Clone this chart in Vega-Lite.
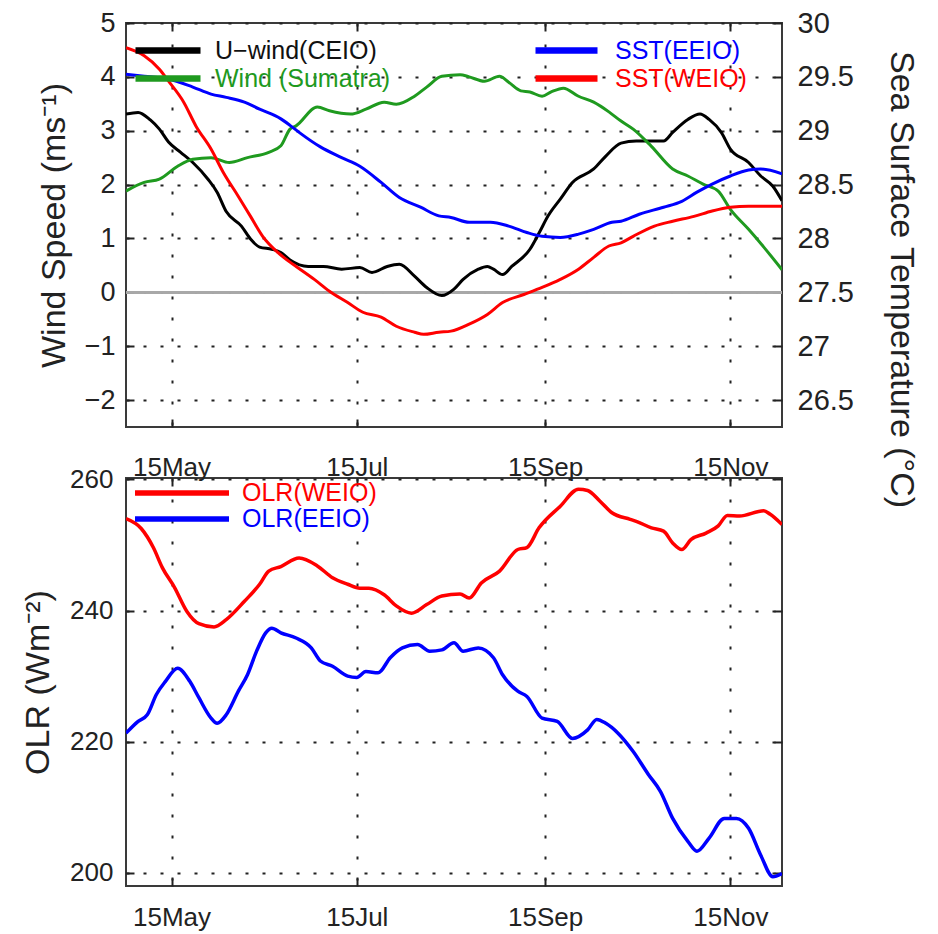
{
  "$schema": "https://vega.github.io/schema/vega-lite/v6.json",
  "background": "white",
  "padding": {"left": 20, "top": 8, "right": 5, "bottom": 5},
  "bounds": "flush",
  "spacing": 51,
  "config": {
    "font": "Liberation Sans",
    "view": {"stroke": "#3a3a3a", "strokeWidth": 2},
    "axis": {
      "domain": false,
      "tickColor": "#222222",
      "tickWidth": 2,
      "tickSize": -8,
      "labelColor": "#222222",
      "labelFont": "Liberation Sans",
      "titleColor": "#222222",
      "titleFont": "Liberation Sans",
      "titleFontWeight": "normal",
      "gridColor": "#222222",
      "gridWidth": 2,
      "labelOverlap": false,
      "labelFlush": false
    },
    "legend": {"padding": 0, "titlePadding": 0, "labelLimit": 500, "labelFont": "Liberation Sans"}
  },
  "datasets": {
    "wind": [
      {"date": "2001-04-30", "series": "U−wind(CEIO)", "value": 3.31},
      {"date": "2001-05-04", "series": "U−wind(CEIO)", "value": 3.34},
      {"date": "2001-05-08", "series": "U−wind(CEIO)", "value": 3.2},
      {"date": "2001-05-11", "series": "U−wind(CEIO)", "value": 3.03},
      {"date": "2001-05-14", "series": "U−wind(CEIO)", "value": 2.79},
      {"date": "2001-05-18", "series": "U−wind(CEIO)", "value": 2.6},
      {"date": "2001-05-22", "series": "U−wind(CEIO)", "value": 2.41},
      {"date": "2001-05-27", "series": "U−wind(CEIO)", "value": 2.1},
      {"date": "2001-05-30", "series": "U−wind(CEIO)", "value": 1.86},
      {"date": "2001-06-02", "series": "U−wind(CEIO)", "value": 1.5},
      {"date": "2001-06-07", "series": "U−wind(CEIO)", "value": 1.23},
      {"date": "2001-06-10", "series": "U−wind(CEIO)", "value": 0.99},
      {"date": "2001-06-13", "series": "U−wind(CEIO)", "value": 0.84},
      {"date": "2001-06-17", "series": "U−wind(CEIO)", "value": 0.8},
      {"date": "2001-06-20", "series": "U−wind(CEIO)", "value": 0.74},
      {"date": "2001-06-23", "series": "U−wind(CEIO)", "value": 0.6},
      {"date": "2001-06-29", "series": "U−wind(CEIO)", "value": 0.48},
      {"date": "2001-07-04", "series": "U−wind(CEIO)", "value": 0.48},
      {"date": "2001-07-10", "series": "U−wind(CEIO)", "value": 0.43},
      {"date": "2001-07-16", "series": "U−wind(CEIO)", "value": 0.46},
      {"date": "2001-07-20", "series": "U−wind(CEIO)", "value": 0.37},
      {"date": "2001-07-25", "series": "U−wind(CEIO)", "value": 0.48},
      {"date": "2001-07-29", "series": "U−wind(CEIO)", "value": 0.52},
      {"date": "2001-08-03", "series": "U−wind(CEIO)", "value": 0.3},
      {"date": "2001-08-07", "series": "U−wind(CEIO)", "value": 0.09},
      {"date": "2001-08-12", "series": "U−wind(CEIO)", "value": -0.06},
      {"date": "2001-08-16", "series": "U−wind(CEIO)", "value": 0.06},
      {"date": "2001-08-19", "series": "U−wind(CEIO)", "value": 0.24},
      {"date": "2001-08-24", "series": "U−wind(CEIO)", "value": 0.43},
      {"date": "2001-08-27", "series": "U−wind(CEIO)", "value": 0.48},
      {"date": "2001-08-29", "series": "U−wind(CEIO)", "value": 0.43},
      {"date": "2001-09-01", "series": "U−wind(CEIO)", "value": 0.33},
      {"date": "2001-09-04", "series": "U−wind(CEIO)", "value": 0.48},
      {"date": "2001-09-10", "series": "U−wind(CEIO)", "value": 0.8},
      {"date": "2001-09-13", "series": "U−wind(CEIO)", "value": 1.1},
      {"date": "2001-09-16", "series": "U−wind(CEIO)", "value": 1.42},
      {"date": "2001-09-20", "series": "U−wind(CEIO)", "value": 1.73},
      {"date": "2001-09-24", "series": "U−wind(CEIO)", "value": 2.04},
      {"date": "2001-10-01", "series": "U−wind(CEIO)", "value": 2.29},
      {"date": "2001-10-05", "series": "U−wind(CEIO)", "value": 2.53},
      {"date": "2001-10-10", "series": "U−wind(CEIO)", "value": 2.77},
      {"date": "2001-10-15", "series": "U−wind(CEIO)", "value": 2.81},
      {"date": "2001-10-24", "series": "U−wind(CEIO)", "value": 2.81},
      {"date": "2001-10-27", "series": "U−wind(CEIO)", "value": 2.97},
      {"date": "2001-11-01", "series": "U−wind(CEIO)", "value": 3.21},
      {"date": "2001-11-05", "series": "U−wind(CEIO)", "value": 3.31},
      {"date": "2001-11-08", "series": "U−wind(CEIO)", "value": 3.21},
      {"date": "2001-11-12", "series": "U−wind(CEIO)", "value": 2.97},
      {"date": "2001-11-15", "series": "U−wind(CEIO)", "value": 2.66},
      {"date": "2001-11-21", "series": "U−wind(CEIO)", "value": 2.41},
      {"date": "2001-11-25", "series": "U−wind(CEIO)", "value": 2.16},
      {"date": "2001-11-29", "series": "U−wind(CEIO)", "value": 1.97},
      {"date": "2001-12-02", "series": "U−wind(CEIO)", "value": 1.7},
      {"date": "2001-04-30", "series": "Wind (Sumatra)", "value": 1.88},
      {"date": "2001-05-06", "series": "Wind (Sumatra)", "value": 2.04},
      {"date": "2001-05-11", "series": "Wind (Sumatra)", "value": 2.1},
      {"date": "2001-05-17", "series": "Wind (Sumatra)", "value": 2.34},
      {"date": "2001-05-22", "series": "Wind (Sumatra)", "value": 2.47},
      {"date": "2001-05-28", "series": "Wind (Sumatra)", "value": 2.5},
      {"date": "2001-06-03", "series": "Wind (Sumatra)", "value": 2.41},
      {"date": "2001-06-09", "series": "Wind (Sumatra)", "value": 2.5},
      {"date": "2001-06-16", "series": "Wind (Sumatra)", "value": 2.6},
      {"date": "2001-06-20", "series": "Wind (Sumatra)", "value": 2.72},
      {"date": "2001-06-23", "series": "Wind (Sumatra)", "value": 3.03},
      {"date": "2001-06-25", "series": "Wind (Sumatra)", "value": 3.09},
      {"date": "2001-07-02", "series": "Wind (Sumatra)", "value": 3.44},
      {"date": "2001-07-06", "series": "Wind (Sumatra)", "value": 3.37},
      {"date": "2001-07-13", "series": "Wind (Sumatra)", "value": 3.31},
      {"date": "2001-07-18", "series": "Wind (Sumatra)", "value": 3.4},
      {"date": "2001-07-24", "series": "Wind (Sumatra)", "value": 3.53},
      {"date": "2001-07-28", "series": "Wind (Sumatra)", "value": 3.49},
      {"date": "2001-08-03", "series": "Wind (Sumatra)", "value": 3.64},
      {"date": "2001-08-07", "series": "Wind (Sumatra)", "value": 3.81},
      {"date": "2001-08-12", "series": "Wind (Sumatra)", "value": 4.01},
      {"date": "2001-08-18", "series": "Wind (Sumatra)", "value": 4.04},
      {"date": "2001-08-21", "series": "Wind (Sumatra)", "value": 4.0},
      {"date": "2001-08-26", "series": "Wind (Sumatra)", "value": 3.92},
      {"date": "2001-08-31", "series": "Wind (Sumatra)", "value": 4.01},
      {"date": "2001-09-03", "series": "Wind (Sumatra)", "value": 3.9},
      {"date": "2001-09-07", "series": "Wind (Sumatra)", "value": 3.74},
      {"date": "2001-09-10", "series": "Wind (Sumatra)", "value": 3.72},
      {"date": "2001-09-14", "series": "Wind (Sumatra)", "value": 3.64},
      {"date": "2001-09-17", "series": "Wind (Sumatra)", "value": 3.72},
      {"date": "2001-09-21", "series": "Wind (Sumatra)", "value": 3.79},
      {"date": "2001-09-26", "series": "Wind (Sumatra)", "value": 3.64},
      {"date": "2001-10-01", "series": "Wind (Sumatra)", "value": 3.53},
      {"date": "2001-10-06", "series": "Wind (Sumatra)", "value": 3.35},
      {"date": "2001-10-10", "series": "Wind (Sumatra)", "value": 3.18},
      {"date": "2001-10-14", "series": "Wind (Sumatra)", "value": 3.03},
      {"date": "2001-10-20", "series": "Wind (Sumatra)", "value": 2.71},
      {"date": "2001-10-27", "series": "Wind (Sumatra)", "value": 2.29},
      {"date": "2001-11-01", "series": "Wind (Sumatra)", "value": 2.16},
      {"date": "2001-11-06", "series": "Wind (Sumatra)", "value": 2.01},
      {"date": "2001-11-11", "series": "Wind (Sumatra)", "value": 1.88},
      {"date": "2001-11-15", "series": "Wind (Sumatra)", "value": 1.54},
      {"date": "2001-11-21", "series": "Wind (Sumatra)", "value": 1.17},
      {"date": "2001-11-26", "series": "Wind (Sumatra)", "value": 0.84},
      {"date": "2001-12-02", "series": "Wind (Sumatra)", "value": 0.42}
    ],
    "sst": [
      {"date": "2001-04-30", "series": "SST(EEIO)", "value": 29.525},
      {"date": "2001-05-06", "series": "SST(EEIO)", "value": 29.505},
      {"date": "2001-05-14", "series": "SST(EEIO)", "value": 29.48},
      {"date": "2001-05-22", "series": "SST(EEIO)", "value": 29.405},
      {"date": "2001-05-28", "series": "SST(EEIO)", "value": 29.34},
      {"date": "2001-06-02", "series": "SST(EEIO)", "value": 29.31},
      {"date": "2001-06-08", "series": "SST(EEIO)", "value": 29.265},
      {"date": "2001-06-13", "series": "SST(EEIO)", "value": 29.2},
      {"date": "2001-06-20", "series": "SST(EEIO)", "value": 29.11},
      {"date": "2001-06-23", "series": "SST(EEIO)", "value": 29.05},
      {"date": "2001-06-26", "series": "SST(EEIO)", "value": 28.985},
      {"date": "2001-07-03", "series": "SST(EEIO)", "value": 28.85},
      {"date": "2001-07-10", "series": "SST(EEIO)", "value": 28.75},
      {"date": "2001-07-16", "series": "SST(EEIO)", "value": 28.67},
      {"date": "2001-07-23", "series": "SST(EEIO)", "value": 28.52},
      {"date": "2001-07-29", "series": "SST(EEIO)", "value": 28.38},
      {"date": "2001-08-05", "series": "SST(EEIO)", "value": 28.29},
      {"date": "2001-08-11", "series": "SST(EEIO)", "value": 28.21},
      {"date": "2001-08-15", "series": "SST(EEIO)", "value": 28.195},
      {"date": "2001-08-21", "series": "SST(EEIO)", "value": 28.15},
      {"date": "2001-08-28", "series": "SST(EEIO)", "value": 28.15},
      {"date": "2001-09-03", "series": "SST(EEIO)", "value": 28.115},
      {"date": "2001-09-09", "series": "SST(EEIO)", "value": 28.055},
      {"date": "2001-09-14", "series": "SST(EEIO)", "value": 28.02},
      {"date": "2001-09-20", "series": "SST(EEIO)", "value": 28.01},
      {"date": "2001-09-26", "series": "SST(EEIO)", "value": 28.04},
      {"date": "2001-10-01", "series": "SST(EEIO)", "value": 28.085},
      {"date": "2001-10-07", "series": "SST(EEIO)", "value": 28.15},
      {"date": "2001-10-10", "series": "SST(EEIO)", "value": 28.16},
      {"date": "2001-10-16", "series": "SST(EEIO)", "value": 28.225},
      {"date": "2001-10-24", "series": "SST(EEIO)", "value": 28.29},
      {"date": "2001-10-30", "series": "SST(EEIO)", "value": 28.345},
      {"date": "2001-11-04", "series": "SST(EEIO)", "value": 28.43},
      {"date": "2001-11-09", "series": "SST(EEIO)", "value": 28.505},
      {"date": "2001-11-15", "series": "SST(EEIO)", "value": 28.58},
      {"date": "2001-11-21", "series": "SST(EEIO)", "value": 28.635},
      {"date": "2001-11-25", "series": "SST(EEIO)", "value": 28.645},
      {"date": "2001-12-02", "series": "SST(EEIO)", "value": 28.6},
      {"date": "2001-04-30", "series": "SST(WEIO)", "value": 29.77},
      {"date": "2001-05-06", "series": "SST(WEIO)", "value": 29.695},
      {"date": "2001-05-11", "series": "SST(WEIO)", "value": 29.57},
      {"date": "2001-05-14", "series": "SST(WEIO)", "value": 29.46},
      {"date": "2001-05-19", "series": "SST(WEIO)", "value": 29.265},
      {"date": "2001-05-23", "series": "SST(WEIO)", "value": 29.045},
      {"date": "2001-05-28", "series": "SST(WEIO)", "value": 28.83},
      {"date": "2001-06-01", "series": "SST(WEIO)", "value": 28.615},
      {"date": "2001-06-06", "series": "SST(WEIO)", "value": 28.39},
      {"date": "2001-06-10", "series": "SST(WEIO)", "value": 28.205},
      {"date": "2001-06-14", "series": "SST(WEIO)", "value": 28.02},
      {"date": "2001-06-19", "series": "SST(WEIO)", "value": 27.87},
      {"date": "2001-06-23", "series": "SST(WEIO)", "value": 27.78},
      {"date": "2001-06-25", "series": "SST(WEIO)", "value": 27.74},
      {"date": "2001-07-01", "series": "SST(WEIO)", "value": 27.62},
      {"date": "2001-07-06", "series": "SST(WEIO)", "value": 27.51},
      {"date": "2001-07-12", "series": "SST(WEIO)", "value": 27.405},
      {"date": "2001-07-17", "series": "SST(WEIO)", "value": 27.315},
      {"date": "2001-07-23", "series": "SST(WEIO)", "value": 27.27},
      {"date": "2001-07-28", "series": "SST(WEIO)", "value": 27.185},
      {"date": "2001-08-03", "series": "SST(WEIO)", "value": 27.13},
      {"date": "2001-08-06", "series": "SST(WEIO)", "value": 27.11},
      {"date": "2001-08-11", "series": "SST(WEIO)", "value": 27.13},
      {"date": "2001-08-15", "series": "SST(WEIO)", "value": 27.14},
      {"date": "2001-08-21", "series": "SST(WEIO)", "value": 27.205},
      {"date": "2001-08-27", "series": "SST(WEIO)", "value": 27.295},
      {"date": "2001-09-01", "series": "SST(WEIO)", "value": 27.405},
      {"date": "2001-09-08", "series": "SST(WEIO)", "value": 27.48},
      {"date": "2001-09-14", "series": "SST(WEIO)", "value": 27.545},
      {"date": "2001-09-20", "series": "SST(WEIO)", "value": 27.62},
      {"date": "2001-09-26", "series": "SST(WEIO)", "value": 27.715},
      {"date": "2001-10-01", "series": "SST(WEIO)", "value": 27.825},
      {"date": "2001-10-06", "series": "SST(WEIO)", "value": 27.93},
      {"date": "2001-10-10", "series": "SST(WEIO)", "value": 27.96},
      {"date": "2001-10-14", "series": "SST(WEIO)", "value": 28.02},
      {"date": "2001-10-21", "series": "SST(WEIO)", "value": 28.115},
      {"date": "2001-10-27", "series": "SST(WEIO)", "value": 28.16},
      {"date": "2001-11-03", "series": "SST(WEIO)", "value": 28.205},
      {"date": "2001-11-09", "series": "SST(WEIO)", "value": 28.255},
      {"date": "2001-11-15", "series": "SST(WEIO)", "value": 28.29},
      {"date": "2001-11-21", "series": "SST(WEIO)", "value": 28.3},
      {"date": "2001-12-02", "series": "SST(WEIO)", "value": 28.3}
    ],
    "olr": [
      {"date": "2001-04-30", "series": "OLR(WEIO)", "value": 254.0},
      {"date": "2001-05-05", "series": "OLR(WEIO)", "value": 252.5},
      {"date": "2001-05-09", "series": "OLR(WEIO)", "value": 249.6},
      {"date": "2001-05-12", "series": "OLR(WEIO)", "value": 246.5},
      {"date": "2001-05-16", "series": "OLR(WEIO)", "value": 243.5},
      {"date": "2001-05-20", "series": "OLR(WEIO)", "value": 239.9},
      {"date": "2001-05-24", "series": "OLR(WEIO)", "value": 238.0},
      {"date": "2001-05-29", "series": "OLR(WEIO)", "value": 237.5},
      {"date": "2001-06-02", "series": "OLR(WEIO)", "value": 238.6},
      {"date": "2001-06-08", "series": "OLR(WEIO)", "value": 241.4},
      {"date": "2001-06-13", "series": "OLR(WEIO)", "value": 244.0},
      {"date": "2001-06-16", "series": "OLR(WEIO)", "value": 246.0},
      {"date": "2001-06-20", "series": "OLR(WEIO)", "value": 246.7},
      {"date": "2001-06-26", "series": "OLR(WEIO)", "value": 248.0},
      {"date": "2001-07-02", "series": "OLR(WEIO)", "value": 246.8},
      {"date": "2001-07-07", "series": "OLR(WEIO)", "value": 245.0},
      {"date": "2001-07-12", "series": "OLR(WEIO)", "value": 244.0},
      {"date": "2001-07-16", "series": "OLR(WEIO)", "value": 243.4},
      {"date": "2001-07-19", "series": "OLR(WEIO)", "value": 243.4},
      {"date": "2001-07-24", "series": "OLR(WEIO)", "value": 242.4},
      {"date": "2001-07-28", "series": "OLR(WEIO)", "value": 240.7},
      {"date": "2001-08-02", "series": "OLR(WEIO)", "value": 239.6},
      {"date": "2001-08-07", "series": "OLR(WEIO)", "value": 240.9},
      {"date": "2001-08-12", "series": "OLR(WEIO)", "value": 242.2},
      {"date": "2001-08-18", "series": "OLR(WEIO)", "value": 242.5},
      {"date": "2001-08-21", "series": "OLR(WEIO)", "value": 241.9},
      {"date": "2001-08-25", "series": "OLR(WEIO)", "value": 244.2},
      {"date": "2001-08-31", "series": "OLR(WEIO)", "value": 246.0},
      {"date": "2001-09-06", "series": "OLR(WEIO)", "value": 249.3},
      {"date": "2001-09-09", "series": "OLR(WEIO)", "value": 249.6},
      {"date": "2001-09-13", "series": "OLR(WEIO)", "value": 252.6},
      {"date": "2001-09-20", "series": "OLR(WEIO)", "value": 255.9},
      {"date": "2001-09-26", "series": "OLR(WEIO)", "value": 258.5},
      {"date": "2001-09-29", "series": "OLR(WEIO)", "value": 258.3},
      {"date": "2001-10-03", "series": "OLR(WEIO)", "value": 256.7},
      {"date": "2001-10-07", "series": "OLR(WEIO)", "value": 254.9},
      {"date": "2001-10-13", "series": "OLR(WEIO)", "value": 253.9},
      {"date": "2001-10-15", "series": "OLR(WEIO)", "value": 253.6},
      {"date": "2001-10-20", "series": "OLR(WEIO)", "value": 252.6},
      {"date": "2001-10-24", "series": "OLR(WEIO)", "value": 252.1},
      {"date": "2001-10-27", "series": "OLR(WEIO)", "value": 250.3},
      {"date": "2001-10-30", "series": "OLR(WEIO)", "value": 249.3},
      {"date": "2001-11-02", "series": "OLR(WEIO)", "value": 250.8},
      {"date": "2001-11-07", "series": "OLR(WEIO)", "value": 251.8},
      {"date": "2001-11-11", "series": "OLR(WEIO)", "value": 252.9},
      {"date": "2001-11-14", "series": "OLR(WEIO)", "value": 254.5},
      {"date": "2001-11-18", "series": "OLR(WEIO)", "value": 254.4},
      {"date": "2001-11-26", "series": "OLR(WEIO)", "value": 255.2},
      {"date": "2001-11-28", "series": "OLR(WEIO)", "value": 254.7},
      {"date": "2001-12-02", "series": "OLR(WEIO)", "value": 253.1},
      {"date": "2001-04-30", "series": "OLR(EEIO)", "value": 221.3},
      {"date": "2001-05-04", "series": "OLR(EEIO)", "value": 223.1},
      {"date": "2001-05-07", "series": "OLR(EEIO)", "value": 224.1},
      {"date": "2001-05-10", "series": "OLR(EEIO)", "value": 227.2},
      {"date": "2001-05-13", "series": "OLR(EEIO)", "value": 229.2},
      {"date": "2001-05-17", "series": "OLR(EEIO)", "value": 231.2},
      {"date": "2001-05-21", "series": "OLR(EEIO)", "value": 229.2},
      {"date": "2001-05-24", "series": "OLR(EEIO)", "value": 226.7},
      {"date": "2001-05-28", "series": "OLR(EEIO)", "value": 223.6},
      {"date": "2001-05-30", "series": "OLR(EEIO)", "value": 222.8},
      {"date": "2001-06-02", "series": "OLR(EEIO)", "value": 224.1},
      {"date": "2001-06-06", "series": "OLR(EEIO)", "value": 227.7},
      {"date": "2001-06-09", "series": "OLR(EEIO)", "value": 230.2},
      {"date": "2001-06-12", "series": "OLR(EEIO)", "value": 233.8},
      {"date": "2001-06-15", "series": "OLR(EEIO)", "value": 236.6},
      {"date": "2001-06-17", "series": "OLR(EEIO)", "value": 237.3},
      {"date": "2001-06-20", "series": "OLR(EEIO)", "value": 236.6},
      {"date": "2001-06-25", "series": "OLR(EEIO)", "value": 235.8},
      {"date": "2001-06-30", "series": "OLR(EEIO)", "value": 234.3},
      {"date": "2001-07-03", "series": "OLR(EEIO)", "value": 232.3},
      {"date": "2001-07-07", "series": "OLR(EEIO)", "value": 231.5},
      {"date": "2001-07-12", "series": "OLR(EEIO)", "value": 230.0},
      {"date": "2001-07-15", "series": "OLR(EEIO)", "value": 229.8},
      {"date": "2001-07-18", "series": "OLR(EEIO)", "value": 230.7},
      {"date": "2001-07-22", "series": "OLR(EEIO)", "value": 230.5},
      {"date": "2001-07-26", "series": "OLR(EEIO)", "value": 232.8},
      {"date": "2001-07-30", "series": "OLR(EEIO)", "value": 234.3},
      {"date": "2001-08-04", "series": "OLR(EEIO)", "value": 234.8},
      {"date": "2001-08-08", "series": "OLR(EEIO)", "value": 233.8},
      {"date": "2001-08-12", "series": "OLR(EEIO)", "value": 234.0},
      {"date": "2001-08-16", "series": "OLR(EEIO)", "value": 235.1},
      {"date": "2001-08-19", "series": "OLR(EEIO)", "value": 233.8},
      {"date": "2001-08-24", "series": "OLR(EEIO)", "value": 234.3},
      {"date": "2001-08-29", "series": "OLR(EEIO)", "value": 232.8},
      {"date": "2001-09-01", "series": "OLR(EEIO)", "value": 230.2},
      {"date": "2001-09-06", "series": "OLR(EEIO)", "value": 227.7},
      {"date": "2001-09-09", "series": "OLR(EEIO)", "value": 226.9},
      {"date": "2001-09-14", "series": "OLR(EEIO)", "value": 223.6},
      {"date": "2001-09-19", "series": "OLR(EEIO)", "value": 223.1},
      {"date": "2001-09-24", "series": "OLR(EEIO)", "value": 220.5},
      {"date": "2001-09-29", "series": "OLR(EEIO)", "value": 221.8},
      {"date": "2001-10-02", "series": "OLR(EEIO)", "value": 223.4},
      {"date": "2001-10-05", "series": "OLR(EEIO)", "value": 222.8},
      {"date": "2001-10-09", "series": "OLR(EEIO)", "value": 221.3},
      {"date": "2001-10-14", "series": "OLR(EEIO)", "value": 218.5},
      {"date": "2001-10-19", "series": "OLR(EEIO)", "value": 215.0},
      {"date": "2001-10-23", "series": "OLR(EEIO)", "value": 212.4},
      {"date": "2001-10-27", "series": "OLR(EEIO)", "value": 208.3},
      {"date": "2001-11-01", "series": "OLR(EEIO)", "value": 204.8},
      {"date": "2001-11-04", "series": "OLR(EEIO)", "value": 203.3},
      {"date": "2001-11-08", "series": "OLR(EEIO)", "value": 205.3},
      {"date": "2001-11-13", "series": "OLR(EEIO)", "value": 208.3},
      {"date": "2001-11-17", "series": "OLR(EEIO)", "value": 208.3},
      {"date": "2001-11-21", "series": "OLR(EEIO)", "value": 206.8},
      {"date": "2001-11-25", "series": "OLR(EEIO)", "value": 202.7},
      {"date": "2001-11-29", "series": "OLR(EEIO)", "value": 199.4},
      {"date": "2001-12-02", "series": "OLR(EEIO)", "value": 199.9}
    ]
  },
  "vconcat": [
    {
      "width": 656,
      "height": 404,
      "layer": [
        {
          "data": {"name": "wind"},
          "layer": [
            {
              "mark": {"type": "rule", "color": "#a8a8a8", "strokeWidth": 2},
              "encoding": {"y": {"datum": 0, "type": "quantitative"}}
            },
            {
              "mark": {"type": "line", "strokeWidth": 3, "clip": true, "interpolate": "monotone"},
              "encoding": {
                "x": {
                  "field": "date",
                  "type": "temporal",
                  "scale": {
                    "type": "utc",
                    "domain": [
                      {"year": 2001, "month": 4, "date": 30, "utc": true},
                      {"year": 2001, "month": 12, "date": 2, "utc": true}
                    ]
                  },
                  "axis": {
                    "orient": "bottom",
                    "title": null,
                    "labels": false,
                    "values": [
                      {"year": 2001, "month": 5, "date": 15, "utc": true},
                      {"year": 2001, "month": 7, "date": 15, "utc": true},
                      {"year": 2001, "month": 9, "date": 15, "utc": true},
                      {"year": 2001, "month": 11, "date": 15, "utc": true}
                    ],
                    "grid": true,
                    "gridDash": [3, 18]
                  }
                },
                "y": {
                  "field": "value",
                  "type": "quantitative",
                  "scale": {"domain": [-2.5, 5], "nice": false, "zero": false},
                  "axis": {
                    "orient": "left",
                    "values": [-2, -1, 0, 1, 2, 3, 4, 5],
                    "format": "d",
                    "grid": true,
                    "gridDash": [3, 14],
                    "labelFontSize": 27,
                    "labelPadding": 19,
                    "title": "Wind Speed (ms⁻¹)",
                    "titleFontSize": 34,
                    "titleX": -72,
                    "titleBaseline": "middle"
                  }
                },
                "color": {
                  "field": "series",
                  "type": "nominal",
                  "scale": {"domain": ["U−wind(CEIO)", "Wind (Sumatra)"], "range": ["#000000", "#1f9a1f"]},
                  "legend": {
                    "orient": "none",
                    "legendX": -4,
                    "legendY": 14,
                    "title": null,
                    "symbolType": "M0,0H6.5",
                    "symbolSize": 400,
                    "symbolStrokeWidth": 6.5,
                    "labelOffset": 66,
                    "labelFontSize": 25,
                    "labelColor": {"expr": "datum.label === 'Wind (Sumatra)' ? '#1f9a1f' : '#111111'"},
                    "rowPadding": 1
                  }
                }
              }
            }
          ]
        },
        {
          "data": {"name": "sst"},
          "mark": {"type": "line", "strokeWidth": 3, "clip": true, "interpolate": "monotone"},
          "encoding": {
            "x": {
              "field": "date",
              "type": "temporal",
              "scale": {
                "type": "utc",
                "domain": [
                  {"year": 2001, "month": 4, "date": 30, "utc": true},
                  {"year": 2001, "month": 12, "date": 2, "utc": true}
                ]
              },
              "axis": {
                "orient": "top",
                "title": null,
                "labels": false,
                "grid": false,
                "values": [
                  {"year": 2001, "month": 5, "date": 15, "utc": true},
                  {"year": 2001, "month": 7, "date": 15, "utc": true},
                  {"year": 2001, "month": 9, "date": 15, "utc": true},
                  {"year": 2001, "month": 11, "date": 15, "utc": true}
                ]
              }
            },
            "y": {
              "field": "value",
              "type": "quantitative",
              "scale": {"domain": [26.25, 30], "nice": false, "zero": false},
              "axis": {
                "orient": "right",
                "values": [26.5, 27, 27.5, 28, 28.5, 29, 29.5, 30],
                "format": "~g",
                "grid": false,
                "labelFontSize": 29,
                "labelPadding": 23,
                "title": "Sea Surface Temperature (°C)",
                "titleFontSize": 34,
                "titleAngle": 90,
                "titleX": 118,
                "titleY": 256,
                "titleAlign": "center",
                "titleBaseline": "middle"
              }
            },
            "color": {
              "field": "series",
              "type": "nominal",
              "scale": {"domain": ["SST(EEIO)", "SST(WEIO)"], "range": ["#0000ff", "#ff0000"]},
              "legend": {
                "orient": "none",
                "legendX": 396,
                "legendY": 14,
                "title": null,
                "symbolType": "M0,0H6.2",
                "symbolSize": 400,
                "symbolStrokeWidth": 6.5,
                "labelOffset": 66,
                "labelFontSize": 25,
                "labelColor": {"expr": "datum.label === 'SST(EEIO)' ? '#0000ff' : '#ff0000'"},
                "rowPadding": 1
              }
            }
          }
        }
      ],
      "resolve": {
        "scale": {"y": "independent", "color": "independent"},
        "axis": {"x": "independent"},
        "legend": {"color": "independent"}
      }
    },
    {
      "width": 656,
      "height": 408,
      "data": {"name": "olr"},
      "layer": [
        {
          "mark": {"type": "line", "strokeWidth": 3.5, "clip": true, "interpolate": "monotone"},
          "encoding": {
            "x": {
              "field": "date",
              "type": "temporal",
              "scale": {
                "type": "utc",
                "domain": [
                  {"year": 2001, "month": 4, "date": 30, "utc": true},
                  {"year": 2001, "month": 12, "date": 2, "utc": true}
                ]
              },
              "axis": {
                "orient": "bottom",
                "title": null,
                "format": "%d%b",
                "labelFontSize": 26,
                "labelPadding": 26,
                "values": [
                  {"year": 2001, "month": 5, "date": 15, "utc": true},
                  {"year": 2001, "month": 7, "date": 15, "utc": true},
                  {"year": 2001, "month": 9, "date": 15, "utc": true},
                  {"year": 2001, "month": 11, "date": 15, "utc": true}
                ],
                "grid": true,
                "gridDash": [3, 18]
              }
            },
            "y": {
              "field": "value",
              "type": "quantitative",
              "scale": {"domain": [198, 260.2], "nice": false, "zero": false},
              "axis": {
                "orient": "left",
                "values": [200, 220, 240, 260],
                "grid": true,
                "gridDash": [3, 14],
                "labelFontSize": 26,
                "labelPadding": 21,
                "title": "OLR (Wm⁻²)",
                "titleFontSize": 34,
                "titleX": -88,
                "titleBaseline": "middle"
              }
            },
            "color": {
              "field": "series",
              "type": "nominal",
              "scale": {"domain": ["OLR(WEIO)", "OLR(EEIO)"], "range": ["#ff0000", "#0000ff"]},
              "legend": {
                "orient": "none",
                "legendX": -4,
                "legendY": 457,
                "title": null,
                "symbolType": "M0,0H9.4",
                "symbolSize": 400,
                "symbolStrokeWidth": 5.5,
                "labelOffset": 94,
                "labelFontSize": 25,
                "labelColor": {"expr": "datum.label === 'OLR(EEIO)' ? '#0000ff' : '#ff0000'"},
                "rowPadding": 0
              }
            }
          }
        },
        {
          "mark": {"type": "line", "strokeOpacity": 0},
          "encoding": {
            "x": {
              "field": "date",
              "type": "temporal",
              "scale": {
                "type": "utc",
                "domain": [
                  {"year": 2001, "month": 4, "date": 30, "utc": true},
                  {"year": 2001, "month": 12, "date": 2, "utc": true}
                ]
              },
              "axis": {
                "orient": "top",
                "title": null,
                "format": "%d%b",
                "labelFontSize": 26,
                "labelPadding": 6,
                "grid": false,
                "values": [
                  {"year": 2001, "month": 5, "date": 15, "utc": true},
                  {"year": 2001, "month": 7, "date": 15, "utc": true},
                  {"year": 2001, "month": 9, "date": 15, "utc": true},
                  {"year": 2001, "month": 11, "date": 15, "utc": true}
                ]
              }
            },
            "y": {
              "field": "value",
              "type": "quantitative",
              "scale": {"domain": [198, 260.2], "nice": false, "zero": false},
              "axis": {
                "orient": "right",
                "values": [200, 220, 240, 260],
                "labels": false,
                "grid": false,
                "title": null
              }
            }
          }
        }
      ],
      "resolve": {
        "scale": {"y": "independent"},
        "axis": {"x": "independent"}
      }
    }
  ]
}
